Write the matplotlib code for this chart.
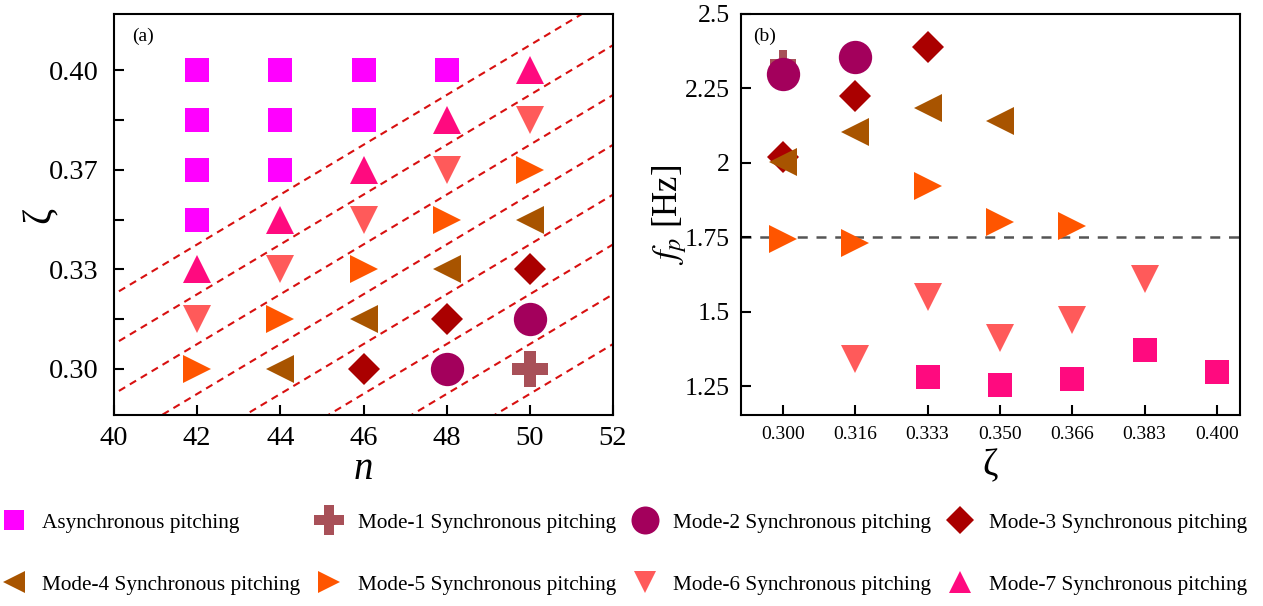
import numpy as np
import matplotlib
matplotlib.use('Agg')
import matplotlib.pyplot as plt

plt.rcParams['font.family'] = ['Liberation Serif', 'DejaVu Serif']
plt.rcParams['mathtext.fontset'] = 'stix'

# ---- data ----
n_vals = [42, 44, 46, 48, 50]
zeta_vals = [0.300, 0.3167, 0.3333, 0.350, 0.3667, 0.3833, 0.400]

# mode at each (zeta, n): 0 = asynchronous, 1..7 = synchronous mode number
# rows follow zeta_vals (bottom to top), columns follow n_vals
mode_grid = [
    [5, 4, 3, 2, 1],
    [6, 5, 4, 3, 2],
    [7, 6, 5, 4, 3],
    [0, 7, 6, 5, 4],
    [0, 0, 7, 6, 5],
    [0, 0, 0, 7, 6],
    [0, 0, 0, 0, 7],
]

# dashed boundaries between modes, offset in grid steps
boundary_offsets = [2.5, 1.5, 0.5, -0.5, -1.5, -2.5, -3.5, -4.5]

# panel (b): peak frequency per mode, indexed by zeta category
zeta_labels = ['0.300', '0.316', '0.333', '0.350', '0.366', '0.383', '0.400']
fp_mode1 = {0: 2.337}
fp_mode2 = {0: 2.30, 1: 2.355}
fp_mode3 = {0: 2.018, 1: 2.226, 2: 2.388}
fp_mode4 = {0: 2.003, 1: 2.103, 2: 2.183, 3: 2.14}
fp_mode5 = {0: 1.745, 1: 1.73, 2: 1.922, 3: 1.80, 4: 1.788}
fp_mode6 = {1: 1.342, 2: 1.549, 3: 1.41, 4: 1.472, 5: 1.611}
fp_async = {2: 1.28, 3: 1.253, 4: 1.275, 5: 1.37, 6: 1.297}
fp_threshold = 1.75

labels = ['Asynchronous pitching'] + [f'Mode-{k} Synchronous pitching' for k in range(1, 8)]

# marker styles per mode (0..7)
markers = ['s', 'P', 'o', 'D', '<', '>', 'v', '^']
sizes = [17.3, 26, 24, 16.8, 19.5, 19.5, 19.5, 19.5]
colors = ['#FF00FF', '#A85058', '#A3005C', '#AA0000', '#A85400', '#FF5500', '#FF5A5A', '#FF0A7F']

fig = plt.figure(figsize=(12.63, 6.06), dpi=100)
ax1 = fig.add_axes([0.0903, 0.3152, 0.3951, 0.6617])
ax2 = fig.add_axes([0.5867, 0.3152, 0.3951, 0.6617])

# ---- panel (a) ----
grid = np.array(mode_grid)
nn, zz = np.meshgrid(n_vals, zeta_vals)
handles = []
for k in range(8):
    mask = grid == k
    h, = ax1.plot(nn[mask], zz[mask], ls='none', marker=markers[k], ms=sizes[k],
                  color=colors[k], mew=0, zorder=3)
    handles.append(h)

dn = n_vals[1] - n_vals[0]
dz = (zeta_vals[-1] - zeta_vals[0]) / (len(zeta_vals) - 1)
n_line = np.array([36.0, 56.0])
for c in boundary_offsets:
    z_line = zeta_vals[0] + ((n_line - n_vals[0]) / dn + c) * dz
    ax1.plot(n_line, z_line, color='#D81010', lw=1.5, ls=(0, (3.5, 2.6)), zorder=1)

ax1.set_xlim(40, 52)
ax1.set_ylim(0.2846, 0.41875)
ax1.set_xticks([40, 42, 44, 46, 48, 50, 52])
ax1.set_yticks([zeta_vals[0], zeta_vals[2], zeta_vals[4], zeta_vals[6]])
ax1.set_yticklabels(['0.30', '0.33', '0.37', '0.40'])
ax1.set_yticks([zeta_vals[1], zeta_vals[3], zeta_vals[5]], minor=True)
ax1.tick_params(which='both', direction='in', length=7, width=1.5, labelsize=20.5)
ax1.tick_params(axis='y', which='both', pad=11)
ax1.tick_params(axis='x', which='both', pad=8)
ax1.set_xlabel('n', style='italic', fontsize=28, labelpad=0)
ax1.set_ylabel('ζ', fontsize=28, labelpad=-7)
ax1.text(0.058, 0.945, '(a)', transform=ax1.transAxes, ha='center', va='center', fontsize=14)

# ---- panel (b) ----
series_b = [(fp_mode1, 1, 19), (fp_mode2, 2, sizes[2]), (fp_mode3, 3, sizes[3]),
            (fp_mode4, 4, sizes[4]), (fp_mode5, 5, sizes[5]), (fp_mode6, 6, sizes[6]),
            (fp_async, 7, sizes[0])]
for data, k, ms in series_b:
    xs = list(data.keys())
    ys = list(data.values())
    mk = 's' if data is fp_async else markers[k]
    ax2.plot(xs, ys, ls='none', marker=mk, ms=ms, color=colors[k], mew=0, zorder=3)

ax2.axhline(fp_threshold, color='#555555', lw=1.8, ls=(0, (4, 3.5)), zorder=1)
ax2.set_xlim(-0.58, 6.32)
ax2.set_ylim(1.153, 2.5)
ax2.set_xticks(range(len(zeta_labels)))
ax2.set_xticklabels(zeta_labels)
ax2.set_yticks([1.25, 1.5, 1.75, 2.0, 2.25, 2.5])
ax2.set_yticklabels(['1.25', '1.5', '1.75', '2', '2.25', '2.5'])
ax2.tick_params(axis='y', direction='in', length=7, width=1.5, labelsize=18.5, pad=8)
ax2.tick_params(axis='x', direction='in', length=7, width=1.5, labelsize=14, pad=8)
ax2.set_xlabel('ζ', fontsize=27, labelpad=4)
ax2.set_ylabel(r'$f_p$ [Hz]', fontsize=25, labelpad=-3)
ax2.text(0.048, 0.945, '(b)', transform=ax2.transAxes, ha='center', va='center', fontsize=14)

for ax in (ax1, ax2):
    for sp in ax.spines.values():
        sp.set_linewidth(1.5)

# legend: column-major order so rows read Async, Mode-1..3 / Mode-4..7
order = [0, 4, 1, 5, 2, 6, 3, 7]
fig.legend([handles[i] for i in order], [labels[i] for i in order], ncol=4,
           loc='center', bbox_to_anchor=(0.494, 0.086), frameon=False, fontsize=15.3,
           markerscale=0.84, handlelength=1.2, handletextpad=0.75, columnspacing=0.75,
           labelspacing=1.98)

fig.savefig('out.png', dpi=100)
